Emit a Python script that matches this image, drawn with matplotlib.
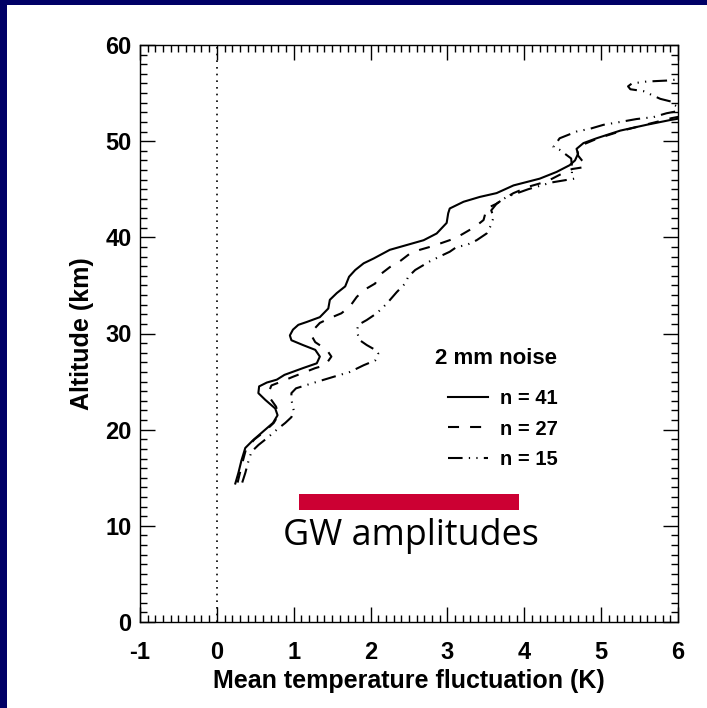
import matplotlib.pyplot as plt
from matplotlib.patches import Rectangle
from matplotlib.ticker import MultipleLocator

# mean temperature fluctuation profiles (K) vs altitude (km)
alt_41 = [14.4, 15.5, 16.8, 18.1, 18.9, 19.8, 20.7, 21.5, 22.2, 23.1, 23.8, 24.5, 24.9,
          25.2, 25.7, 26.4, 26.9, 27.6, 28.3, 28.8, 29.3, 29.8, 30.4, 30.9, 31.2, 31.7,
          32.6, 33.5, 34.2, 34.9, 35.9, 36.6, 37.3, 37.8, 38.7, 39.2, 39.7, 40.4, 41.5,
          42.5, 43.0, 43.7, 44.2, 44.6, 45.4, 46.1, 46.8, 47.5, 48.0, 48.7, 49.2, 49.8,
          50.3, 51.1, 51.7, 52.2, 52.4]
dt_41 = [0.24, 0.28, 0.32, 0.37, 0.47, 0.60, 0.73, 0.79, 0.76, 0.63, 0.54, 0.55, 0.65,
         0.78, 0.88, 1.12, 1.30, 1.34, 1.28, 1.12, 0.97, 0.95, 0.99, 1.06, 1.17, 1.34,
         1.45, 1.47, 1.56, 1.67, 1.72, 1.80, 1.91, 2.04, 2.25, 2.47, 2.69, 2.86, 2.99,
         3.01, 3.03, 3.21, 3.42, 3.64, 3.86, 4.20, 4.42, 4.59, 4.66, 4.70, 4.68, 4.77,
         4.94, 5.25, 5.59, 5.90, 6.05]

alt_27 = [14.5, 16.5, 18.0, 19.0, 19.8, 20.7, 21.5, 22.4, 23.3, 24.0, 24.6, 25.0, 25.5,
          25.9, 26.4, 26.7, 27.6, 28.3, 29.1, 29.8, 30.5, 31.1, 31.6, 32.1, 32.8, 33.8,
          34.5, 35.2, 36.1, 36.9, 37.5, 38.3, 38.7, 39.0, 39.4, 39.9, 40.4, 41.1, 41.8,
          43.0, 43.5, 44.0, 44.6, 45.3, 45.8, 46.5, 47.1, 47.3, 47.6, 48.0, 48.5, 49.0,
          49.6, 50.3, 51.1, 51.8, 52.4, 52.6]
dt_27 = [0.27, 0.33, 0.38, 0.49, 0.62, 0.74, 0.80, 0.77, 0.69, 0.68, 0.71, 0.84, 0.99,
         1.12, 1.28, 1.41, 1.49, 1.43, 1.28, 1.23, 1.27, 1.34, 1.47, 1.62, 1.73, 1.82,
         1.91, 2.06, 2.12, 2.25, 2.38, 2.51, 2.64, 2.77, 2.92, 3.10, 3.21, 3.36, 3.47,
         3.51, 3.64, 3.73, 3.86, 4.07, 4.29, 4.46, 4.62, 4.78, 4.80, 4.75, 4.70, 4.69,
         4.75, 4.96, 5.28, 5.62, 5.92, 6.05]

alt_15 = [14.5, 15.5, 16.7, 17.7, 18.4, 19.1, 20.0, 20.7, 21.3, 22.0, 23.1, 23.8, 24.3,
          24.8, 25.5, 26.0, 26.7, 27.2, 27.9, 28.3, 28.8, 29.3, 30.2, 30.9, 31.4, 32.1,
          33.1, 34.3, 35.2, 35.9, 36.6, 37.5, 38.2, 38.5, 39.0, 39.2, 39.7, 40.4, 41.3,
          42.1, 42.8, 43.5, 44.2, 45.0, 45.7, 46.1, 46.6, 47.4, 48.2, 49.1, 49.4, 50.3,
          51.0, 51.3, 51.7, 52.0, 52.3, 52.5, 52.9, 53.1, 53.4, 53.8, 54.1, 54.4, 55.2,
          55.4, 55.7, 56.0, 56.2, 56.3, 56.5]
dt_15 = [0.33, 0.37, 0.41, 0.45, 0.54, 0.65, 0.78, 0.89, 0.97, 1.00, 0.97, 0.97, 1.03,
         1.23, 1.52, 1.73, 1.91, 2.06, 2.10, 2.06, 1.95, 1.86, 1.82, 1.84, 1.95, 2.08,
         2.21, 2.34, 2.45, 2.49, 2.58, 2.77, 2.95, 3.03, 3.12, 3.25, 3.38, 3.51, 3.57,
         3.60, 3.57, 3.64, 3.77, 4.05, 4.35, 4.65, 4.62, 4.62, 4.61, 4.46, 4.38, 4.46,
         4.68, 4.86, 5.03, 5.25, 5.46, 5.68, 5.85, 5.98, 6.05, 5.94, 5.92, 5.77, 5.55,
         5.38, 5.35, 5.40, 5.59, 5.85, 6.10]

# typical gravity wave amplitude range
gw_range = [1.07, 3.93]
gw_alt = [11.65, 13.3]

x_ticks = [-1, 0, 1, 2, 3, 4, 5, 6]
y_ticks = [0, 10, 20, 30, 40, 50, 60]

plt.rcParams['font.family'] = ['Liberation Sans', 'DejaVu Sans']
plt.rcParams['font.weight'] = 'bold'
plt.rcParams['axes.unicode_minus'] = False

fig = plt.figure(figsize=(7.07, 7.08), dpi=100, facecolor='#000066')
fig.patches.append(Rectangle((7 / 707, 0), 1, 1 - 4.5 / 708, transform=fig.transFigure,
                             facecolor='white', edgecolor='none', zorder=-5))

ax = fig.add_axes([140 / 707, 86 / 708, 538 / 707, 577 / 708])
ax.set_zorder(2)
ax.set_xlim(-1, 6)
ax.set_ylim(0, 60)

ax.axvline(0, color='black', lw=1.2, linestyle=(0, (1, 3)))

ax.plot(dt_41, alt_41, color='black', lw=1.5, label='n = 41')
ax.plot(dt_27, alt_27, color='black', lw=1.5, linestyle=(0, (5.3, 5.3)), label='n = 27')
ax.plot(dt_15, alt_15, color='black', lw=1.5,
        linestyle=(0, (7, 3, 0.6, 3, 0.6, 3)), label='n = 15')

ax.barh((gw_alt[0] + gw_alt[1]) / 2, gw_range[1] - gw_range[0], left=gw_range[0],
        height=gw_alt[1] - gw_alt[0], color='#cc0033')
ax.text(0.86, 8.0, 'GW amplitudes', family=['Open Sans', 'DejaVu Sans'],
        fontweight='normal', fontsize=25.8, va='baseline', ha='left')

ax.set_xticks(x_ticks)
ax.set_yticks(y_ticks)
ax.xaxis.set_minor_locator(MultipleLocator(0.1))
ax.yaxis.set_minor_locator(MultipleLocator(1))
ax.tick_params(which='both', direction='in', top=True, right=True, width=1, labelsize=17)
ax.tick_params(axis='x', which='both', pad=14)
ax.tick_params(axis='y', which='both', pad=6)
ax.tick_params(which='major', length=11)
ax.tick_params(which='minor', length=5)
for s in ax.spines.values():
    s.set_linewidth(1)

ax.set_xlabel('Mean temperature fluctuation (K)', fontsize=18, fontweight='bold', labelpad=3)
ax.set_ylabel('Altitude (km)', fontsize=18, fontweight='bold', labelpad=8)

ax.text(0.548, 0.456, '2 mm noise', transform=ax.transAxes, fontsize=16,
        fontweight='bold', ha='left', va='center')
ax.legend(loc='upper left', bbox_to_anchor=(0.5725, 0.403), frameon=False,
          borderaxespad=0, borderpad=0, prop={'weight': 'bold', 'size': 14.5},
          handlelength=2.0, handletextpad=0.56, labelspacing=0.55)

fig.savefig('out.png', dpi=100, facecolor=fig.get_facecolor())
